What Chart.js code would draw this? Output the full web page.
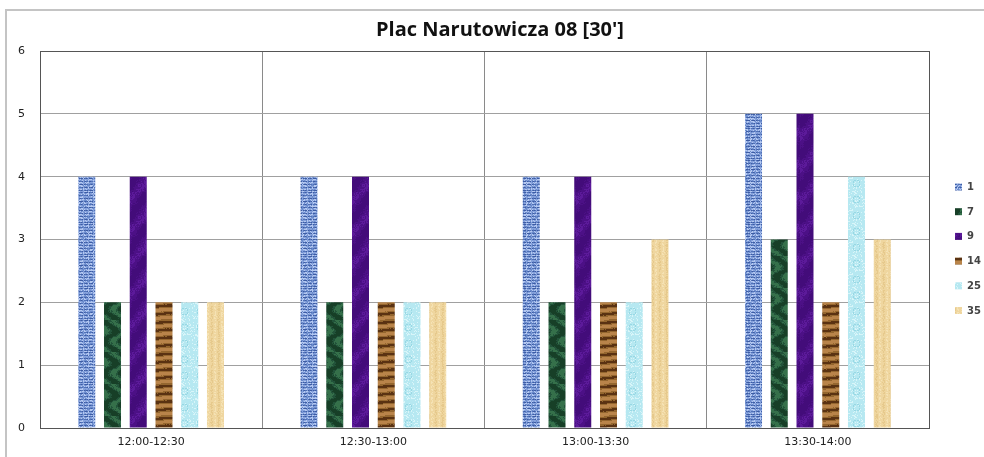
<!DOCTYPE html>
<html>
<head>
<meta charset="utf-8">
<script src="https://cdn.jsdelivr.net/npm/chart.js@4.4.1/dist/chart.umd.min.js"></script>
<style>
  html, body { margin: 0; padding: 0; background: #fff; }
  #wrap { width: 984px; height: 457px; }
</style>
</head>
<body>
<div id="wrap"><canvas id="chart" width="984" height="457"></canvas></div>
<script>
// Dane wykresu
const chartTitle = "Plac Narutowicza 08 [30']";
const categories = ['12:00-12:30', '12:30-13:00', '13:00-13:30', '13:30-14:00'];
const seriesNames = ['1', '7', '9', '14', '25', '35'];
const line1 = [4, 4, 4, 5];
const line7 = [2, 2, 2, 3];
const line9 = [4, 4, 4, 5];
const line14 = [2, 2, 2, 2];
const line25 = [2, 2, 2, 4];
const line35 = [2, 2, 3, 3];
const yTicks = [0, 1, 2, 3, 4, 5, 6];

// pseudo-szum deterministyczny do tekstur
const hash = (x, y, s) => {
    const n = Math.sin(x * 12.9898 + y * 78.233 + s * 37.719) * 43758.5453;
    return n - Math.floor(n);
};

const makePattern = (kind) => {
    const c = document.createElement('canvas');
    c.width = 32; c.height = 32;
    const g = c.getContext('2d');
    for (let y = 0; y < 32; y++) {
        for (let x = 0; x < 32; x++) {
            const r = hash(x, y, kind.length);
            let col;
            if (kind === 'blue') {
                // splot tkaniny
                if (y % 3 === 0 && x % 5 !== 4) col = r > 0.5 ? '#3d5ca4' : '#5072b8';
                else col = r > 0.7 ? '#b4c8f0' : (r > 0.25 ? '#86a2dc' : '#6c8ccc');
            } else if (kind === 'green') {
                const v = Math.sin(x * 0.35 + Math.cos(y * 0.3) * 2) * 0.6 + r * 0.5;
                col = v > 0.6 ? '#35704a' : (v > 0.1 ? '#22533a' : '#173f27');
            } else if (kind === 'purple') {
                const v = Math.sin(x * 0.25 + y * 0.17) * 0.4 + r * 0.4;
                col = v > 0.5 ? '#5c1a9a' : (v > 0.1 ? '#4c1086' : '#430c7a');
            } else if (kind === 'brown') {
                const band = Math.sin(y * 0.8 + Math.sin(x * 0.2) * 0.5) + r * 0.3;
                col = band > 0.75 ? '#5a3212' : (band > -0.2 ? '#94662f' : '#b9844a');
            } else if (kind === 'cyan') {
                const d = Math.hypot((x % 16) - 8, (y % 16) - 7);
                col = (d > 3 && d < 4) ? '#98d8e4' : (r > 0.85 ? '#d8f5f9' : '#b6e8f1');
            } else {
                const v = Math.sin(x * 0.9) * 0.5 + r * 0.6;
                col = v > 0.75 ? '#f5e2b4' : (v > -0.1 ? '#efd69f' : '#e6c98c');
            }
            g.fillStyle = col;
            g.fillRect(x, y, 1, 1);
        }
    }
    return g.createPattern(c, 'repeat');
};

const fills = ['blue', 'green', 'purple', 'brown', 'cyan', 'tan'].map(makePattern);
const values = [line1, line7, line9, line14, line25, line35];

// Ramka, tytuł i legenda
const decorPlugin = {
    id: 'decor',
    beforeDraw(chart) {
        const c = chart.ctx;
        c.save();
        c.fillStyle = '#fff';
        c.fillRect(0, 0, chart.width, chart.height);
        c.strokeStyle = '#c4c4c4';
        c.lineWidth = 2;
        c.beginPath();
        c.moveTo(6, chart.height);
        c.lineTo(6, 10);
        c.lineTo(chart.width, 10);
        c.stroke();
        c.restore();
    },
    afterDraw(chart) {
        const c = chart.ctx;
        const a = chart.chartArea;
        c.save();
        c.strokeStyle = '#555';
        c.lineWidth = 1;
        c.strokeRect(Math.round(a.left) + 0.5, Math.round(a.top) + 0.5, Math.round(a.right - a.left), Math.round(a.bottom - a.top));
        c.fillStyle = '#111';
        c.font = 'bold 20px "Open Sans"';
        c.textAlign = 'center';
        c.textBaseline = 'middle';
        c.fillText(chartTitle, 500, 30);
        // legenda
        c.font = 'bold 10px "DejaVu Sans"';
        c.textAlign = 'left';
        chart.data.datasets.forEach((ds, i) => {
            const y = 187 + i * 24.7;
            c.fillStyle = ds.backgroundColor;
            c.fillRect(955, y - 3.5, 7, 7);
            c.fillStyle = '#444';
            c.fillText(ds.label, 967, y + 0.5);
        });
        c.restore();
    }
};

new Chart(document.getElementById('chart'), {
    type: 'bar',
    data: {
        labels: categories,
        datasets: seriesNames.map((name, i) => ({
            label: name,
            data: values[i],
            backgroundColor: fills[i],
            borderWidth: 0,
            categoryPercentage: 0.695,
            barPercentage: 0.66
        }))
    },
    options: {
        responsive: false,
        animation: false,
        layout: { padding: { left: 6, right: 55, top: 51, bottom: 0 } },
        plugins: {
            legend: { display: false },
            title: { display: false },
            tooltip: { enabled: false }
        },
        scales: {
            x: {
                afterFit: (s) => { s.height = 29; },
                grid: { color: '#8a8a8a', drawTicks: false, offset: true },
                border: { color: '#555' },
                ticks: { color: '#222', padding: 8, font: { family: 'DejaVu Sans', size: 11 } }
            },
            y: {
                min: 0,
                max: 6,
                afterFit: (s) => { s.width = 34; },
                afterBuildTicks: (s) => { s.ticks = yTicks.map(v => ({ value: v })); },
                grid: { color: '#a0a0a0', drawTicks: false },
                border: { color: '#555' },
                ticks: { color: '#222', padding: 15, font: { family: 'DejaVu Sans', size: 11 } }
            }
        }
    },
    plugins: [decorPlugin]
});
</script>
</body>
</html>
